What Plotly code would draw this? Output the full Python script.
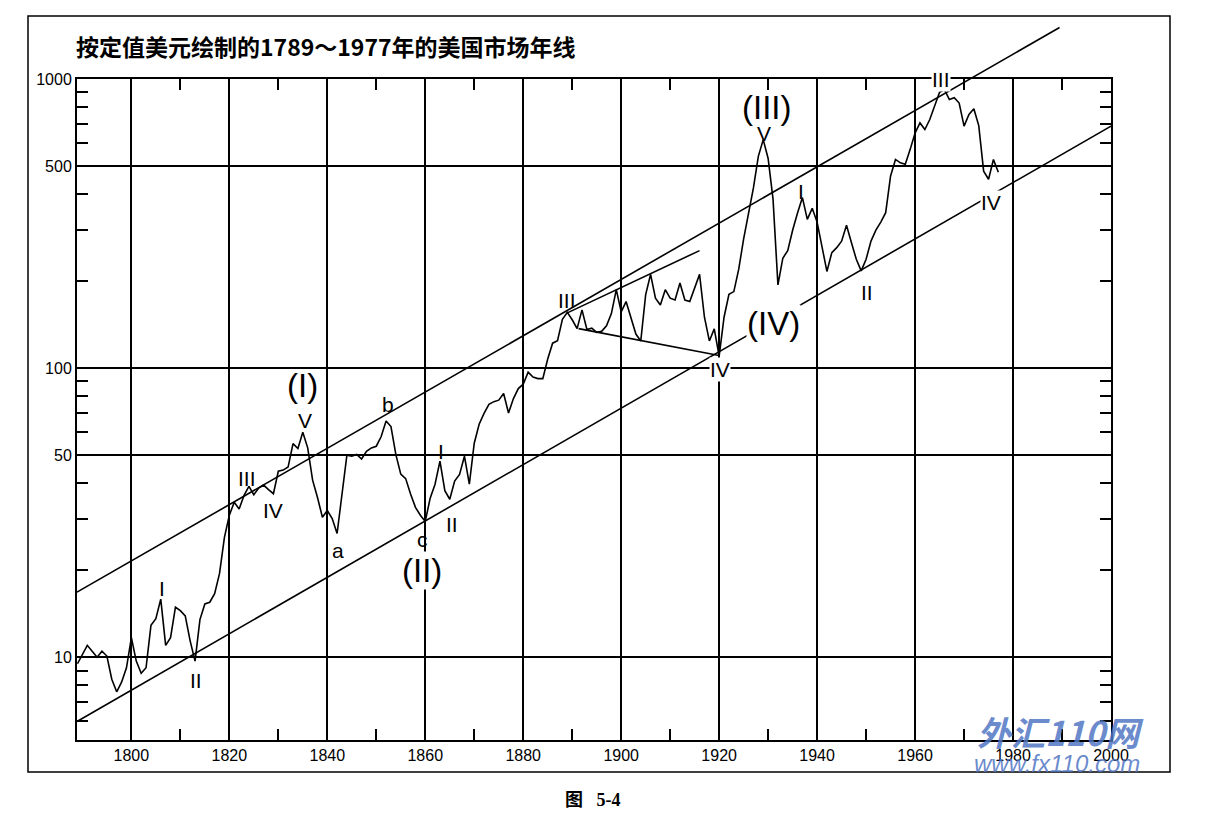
import numpy as np
import plotly.graph_objects as go

# Annual constant-dollar index, 1789-1977
years = list(range(1789, 1978))
values = [
    9.5,                                                         # 1789
    10.2, 11.0, 10.5, 10.0, 10.5, 10.1, 8.4, 7.6, 8.2, 9.2,      # 1790s
    11.7, 9.7, 8.8, 9.2, 12.9, 13.6, 15.9, 11.0, 11.7, 14.9,     # 1800s
    14.5, 13.9, 11.4, 9.7, 13.5, 15.3, 15.5, 16.6, 19.5, 26.0,   # 1810s
    31.0, 34.4, 32.6, 36.3, 39.0, 36.5, 38.5, 39.4, 38.0, 36.8,  # 1820s
    44.0, 44.4, 45.5, 54.8, 52.7, 60.0, 53.0, 41.0, 35.7, 30.5,  # 1830s
    32.2, 30.2, 26.8, 36.0, 50.0, 49.6, 50.3, 48.5, 51.6, 53.0,  # 1840s
    53.7, 58.0, 65.7, 62.8, 50.2, 43.0, 41.5, 36.7, 33.0, 31.0,  # 1850s
    29.5, 35.5, 39.7, 47.7, 37.7, 35.2, 40.7, 42.9, 49.6, 39.7,  # 1860s
    55.0, 64.0, 69.8, 75.0, 76.6, 77.5, 81.7, 70.0, 78.5, 85.0,  # 1870s
    88.0, 96.9, 93.2, 92.0, 92.0, 107.6, 122.0, 124.4, 147.5, 156.0,  # 1880s
    147.0, 137.0, 159.0, 136.0, 137.5, 133.0, 134.0, 140.0, 154.4, 186.8,  # 1890s
    156.6, 169.9, 148.3, 131.2, 124.2, 179.6, 211.0, 174.6, 165.3, 186.8,  # 1900s
    174.6, 172.2, 197.0, 172.0, 170.0, 189.0, 211.0, 150.0, 124.2, 136.7,  # 1910s
    110.0, 150.0, 180.0, 184.0, 220.0, 280.0, 340.0, 420.0, 540.0, 617.0,  # 1920s
    531.0, 384.0, 194.0, 240.0, 255.0, 300.0, 344.0, 389.0, 327.0, 357.0,  # 1930s
    320.0, 265.0, 216.0, 251.0, 261.0, 275.0, 312.0, 272.0, 238.0, 217.0,  # 1940s
    238.0, 275.0, 300.0, 320.0, 345.0, 462.0, 527.0, 513.0, 507.0, 571.0,  # 1950s
    650.0, 705.0, 669.0, 724.0, 806.0, 900.0, 919.0, 849.0, 861.0, 826.0,  # 1960s
    687.0, 754.0, 789.0, 690.0, 480.0, 450.0, 527.0, 476.0,                # 1970s
]
assert len(values) == len(years)

# trend channel and triangle boundary lines (end points)
upper_channel_years = [1788.9, 1989.5]
upper_channel_values = [16.8, 1507]
lower_channel_years = [1788.9, 2000]
lower_channel_values = [6.0, 687]
tri_upper_years = [1888.9, 1916.0]
tri_upper_values = [155, 255]
tri_lower_years = [1891.3, 1920.0]
tri_lower_values = [137, 110.6]

# wave labels
label_text = ["I", "II", "III", "IV", "V", "(I)", "a", "b", "c", "(II)", "I", "II",
              "III", "IV", "V", "(III)", "(IV)", "I", "II", "III", "IV"]
label_year = [1806.2, 1813.2, 1823.7, 1828.9, 1835.4, 1835.0, 1842.2, 1852.4, 1859.5,
              1859.4, 1863.3, 1865.4, 1888.9, 1920.1, 1929.1, 1929.7, 1931.0, 1936.7,
              1950.1, 1965.2, 1975.6]
label_value = [17.3, 8.3, 41.6, 32.3, 66, 87.3, 23.4, 74.6, 25.5, 19.9, 51.6, 28.7,
               172, 98.7, 650, 794, 143, 408, 182, 995, 373]

x_ticks = list(range(1800, 2001, 20))
x_minor = list(range(1810, 2000, 20))
y_ticks = [10, 50, 100, 500, 1000]
y_minor = [6, 7, 8, 9, 20, 30, 40, 60, 70, 80, 90, 200, 300, 400, 600, 700, 800, 900]

title_text = "按定值美元绘制的1789～1977年的美国市场年线"
caption_text = "图   5-4"

# page geometry (pixels in the 1207x826 window); the page body has an 8px
# default margin, so the figure itself is drawn 8px smaller and offset
PAGE_W, PAGE_H = 1207, 826
BODY = 8
W, H = PAGE_W - BODY, PAGE_H - BODY
M = dict(l=12, r=12, t=2, b=40)
pw = W - M["l"] - M["r"]
ph = H - M["t"] - M["b"]


def px(x):
    return (x - BODY - M["l"]) / pw


def py(y):
    return (H - M["b"] - (y - BODY)) / ph


xdom = [px(77), px(1111)]
ydom = [py(740), py(79)]
yr = [0.714, 3.0]
# second (invisible) axis pair, same scale but reaching up to the page top,
# so the upper channel line can run past the plot frame as in the book
y2dom = [ydom[0], 1.0]
y2r = [yr[0], yr[0] + (yr[1] - yr[0]) * (y2dom[1] - y2dom[0]) / (ydom[1] - ydom[0])]

NUM_FONT = "Liberation Sans Narrow, Arial Narrow, Liberation Sans, Arial, sans-serif"
LAB_FONT = "Liberation Sans, Arial, sans-serif"

fig = go.Figure()

line_style = dict(color="black", width=1.6)
fig.add_trace(go.Scatter(x=years, y=values, mode="lines", line=line_style,
                         xaxis="x", yaxis="y", hoverinfo="x+y"))
fig.add_trace(go.Scatter(x=lower_channel_years, y=lower_channel_values, mode="lines",
                         line=line_style, xaxis="x", yaxis="y", hoverinfo="skip"))
fig.add_trace(go.Scatter(x=tri_upper_years, y=tri_upper_values, mode="lines",
                         line=line_style, xaxis="x", yaxis="y", hoverinfo="skip"))
fig.add_trace(go.Scatter(x=tri_lower_years, y=tri_lower_values, mode="lines",
                         line=line_style, xaxis="x", yaxis="y", hoverinfo="skip"))
fig.add_trace(go.Scatter(x=upper_channel_years, y=upper_channel_values, mode="lines",
                         line=line_style, xaxis="x2", yaxis="y2", hoverinfo="skip"))

# labels that sit on a grid line / channel line get a white patch behind them
masked = {9, 13, 16, 19, 20}
annotations = []
for i, (t, xv, yv) in enumerate(zip(label_text, label_year, label_value)):
    big = t.startswith("(")
    annotations.append(dict(
        x=xv, y=np.log10(yv), xref="x", yref="y", text=t, showarrow=False,
        font=dict(family=LAB_FONT, size=33 if big else 21, color="black"),
        bgcolor="white" if i in masked else "rgba(0,0,0,0)", borderpad=0,
        xanchor="center", yanchor="middle"))

annotations.append(dict(x=px(74), y=py(46), xref="paper", yref="paper",
                        text="<b>" + title_text + "</b>", showarrow=False,
                        xanchor="left", yanchor="middle",
                        font=dict(family="Noto Sans CJK SC", size=23, color="black")))
annotations.append(dict(x=px(593), y=py(800), xref="paper", yref="paper",
                        text="<b>" + caption_text + "</b>", showarrow=False,
                        xanchor="center", yanchor="middle",
                        font=dict(family="Liberation Serif, Noto Sans CJK SC", size=18,
                                  color="black")))
# site watermark on the scanned page
annotations.append(dict(x=px(1060), y=py(731), xref="paper", yref="paper",
                        text="<b><i>外汇110网</i></b>", showarrow=False,
                        xanchor="center", yanchor="middle",
                        font=dict(family="Noto Sans CJK SC", size=34,
                                  color="rgba(80,118,196,0.85)")))
annotations.append(dict(x=px(1057), y=py(763), xref="paper", yref="paper",
                        text="<i>www.fx110.com</i>", showarrow=False,
                        xanchor="center", yanchor="middle",
                        font=dict(family="Liberation Sans", size=24,
                                  color="rgba(80,118,196,0.85)")))

fig.update_layout(
    width=W, height=H, margin=dict(M, autoexpand=False), showlegend=False,
    paper_bgcolor="white", plot_bgcolor="rgba(0,0,0,0)",
    xaxis=dict(domain=xdom, range=[1788.9, 2000], anchor="y", automargin=False,
               tickvals=x_ticks, ticktext=[str(v) for v in x_ticks], ticks="",
               showgrid=True, gridcolor="black", gridwidth=1.6, zeroline=False,
               showline=True, linecolor="black", linewidth=2, mirror="ticks",
               tickfont=dict(family=NUM_FONT, size=16, color="black"),
               minor=dict(tickvals=x_minor, ticks="inside", ticklen=11,
                          tickwidth=1.5, tickcolor="black", showgrid=False)),
    yaxis=dict(domain=ydom, type="log", range=yr, anchor="x", automargin=False,
               tickvals=y_ticks, ticktext=[str(v) for v in y_ticks],
               ticks="inside", ticklen=11, tickwidth=1.5, tickcolor="black",
               showgrid=True, gridcolor="black", gridwidth=1.6, zeroline=False,
               showline=True, linecolor="black", linewidth=2, mirror="ticks",
               tickfont=dict(family=NUM_FONT, size=16, color="black"),
               minor=dict(tickvals=y_minor, ticks="inside", ticklen=11,
                          tickwidth=1.5, tickcolor="black", showgrid=False)),
    xaxis2=dict(domain=xdom, range=[1788.9, 2000], anchor="y2", visible=False),
    yaxis2=dict(domain=y2dom, type="log", range=y2r, anchor="x2", visible=False),
    annotations=annotations,
    shapes=[dict(type="rect", xref="paper", yref="paper",
                 x0=px(28), x1=px(1170), y0=py(772), y1=py(16),
                 line=dict(color="black", width=1.5), layer="below")],
)

fig.write_html("out.html")
